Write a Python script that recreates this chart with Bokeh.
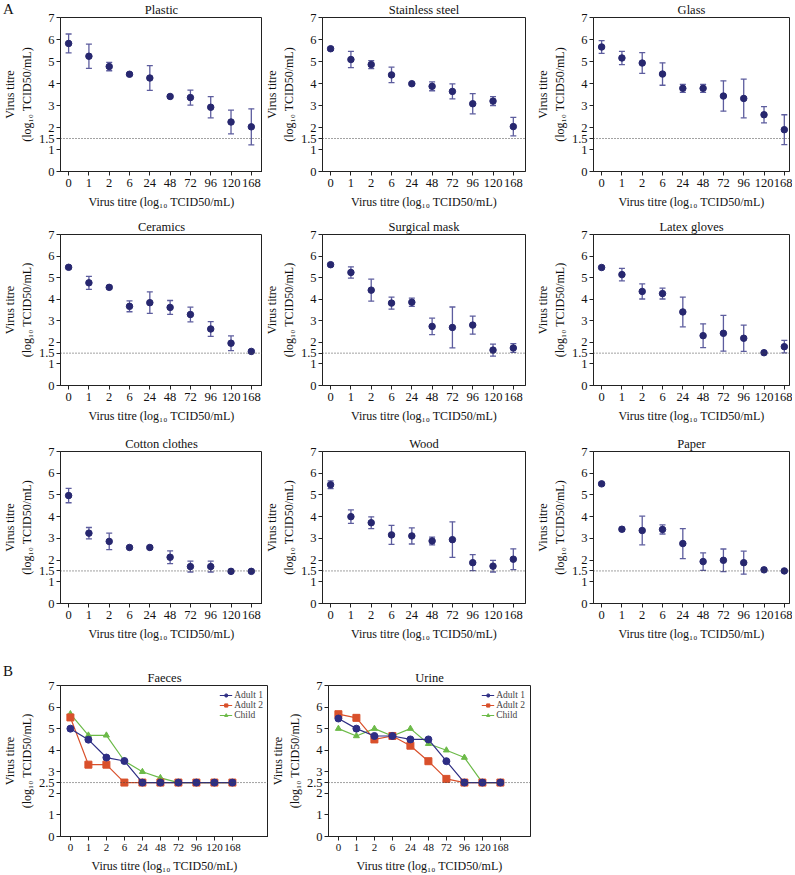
import numpy as np
from bokeh.plotting import figure
from bokeh.layouts import column
from bokeh.models import (ColumnDataSource, Whisker, TeeHead, FixedTicker, Span,
                          Range1d, Legend, LegendItem, Div, GridBox)
from bokeh.embed import file_html
from bokeh.resources import INLINE

TIMES = ["0", "1", "2", "6", "24", "48", "72", "96", "120", "168"]

PANELS_A = ["Plastic", "Stainless steel", "Glass",
            "Ceramics", "Surgical mask", "Latex gloves",
            "Cotton clothes", "Wood", "Paper"]

PLASTIC_MEAN = [5.82, 5.24, 4.77, 4.42, 4.25, 3.41, 3.36, 2.92, 2.25, 2.03]
PLASTIC_ERR = [0.43, 0.55, 0.19, 0.06, 0.56, 0.06, 0.34, 0.48, 0.54, 0.82]
STEEL_MEAN = [5.58, 5.09, 4.86, 4.39, 3.99, 3.87, 3.64, 3.08, 3.20, 2.04]
STEEL_ERR = [0.07, 0.37, 0.18, 0.35, 0.05, 0.20, 0.34, 0.46, 0.20, 0.42]
GLASS_MEAN = [5.66, 5.16, 4.93, 4.43, 3.78, 3.78, 3.43, 3.32, 2.58, 1.90]
GLASS_ERR = [0.29, 0.30, 0.47, 0.51, 0.18, 0.18, 0.69, 0.88, 0.37, 0.68]
CERAMICS_MEAN = [5.48, 4.76, 4.55, 3.67, 3.84, 3.62, 3.29, 2.62, 1.96, 1.58]
CERAMICS_ERR = [0.07, 0.30, 0.07, 0.25, 0.50, 0.32, 0.34, 0.34, 0.34, 0.05]
MASK_MEAN = [5.60, 5.24, 4.42, 3.82, 3.86, 2.74, 2.69, 2.80, 1.64, 1.74]
MASK_ERR = [0.07, 0.26, 0.51, 0.28, 0.19, 0.38, 0.95, 0.42, 0.28, 0.20]
GLOVES_MEAN = [5.47, 5.14, 4.36, 4.26, 3.41, 2.31, 2.42, 2.19, 1.52, 1.80]
GLOVES_ERR = [0.05, 0.29, 0.35, 0.25, 0.69, 0.55, 0.83, 0.61, 0.05, 0.29]
COTTON_MEAN = [4.97, 3.24, 2.86, 2.58, 2.58, 2.13, 1.70, 1.70, 1.48, 1.48]
COTTON_ERR = [0.33, 0.26, 0.38, 0.05, 0.05, 0.29, 0.25, 0.25, 0.03, 0.03]
WOOD_MEAN = [5.47, 4.00, 3.72, 3.16, 3.11, 2.88, 2.94, 1.88, 1.72, 2.04]
WOOD_ERR = [0.18, 0.31, 0.27, 0.44, 0.37, 0.18, 0.82, 0.37, 0.27, 0.48]
PAPER_MEAN = [5.51, 3.42, 3.36, 3.41, 2.76, 1.93, 1.99, 1.88, 1.55, 1.50]
PAPER_ERR = [0.07, 0.08, 0.66, 0.21, 0.69, 0.40, 0.52, 0.53, 0.07, 0.03]

MEANS_A = [PLASTIC_MEAN, STEEL_MEAN, GLASS_MEAN, CERAMICS_MEAN, MASK_MEAN,
           GLOVES_MEAN, COTTON_MEAN, WOOD_MEAN, PAPER_MEAN]
ERRS_A = [PLASTIC_ERR, STEEL_ERR, GLASS_ERR, CERAMICS_ERR, MASK_ERR,
          GLOVES_ERR, COTTON_ERR, WOOD_ERR, PAPER_ERR]

SERIES_B = ["Adult 1", "Adult 2", "Child"]
FAECES_ADULT1 = [5.00, 4.49, 3.66, 3.50, 2.50, 2.50, 2.50, 2.50, 2.50, 2.50]
FAECES_ADULT2 = [5.52, 3.33, 3.33, 2.50, 2.50, 2.50, 2.50, 2.50, 2.50, 2.50]
FAECES_CHILD = [5.68, 4.69, 4.69, 3.50, 3.00, 2.72, 2.50, 2.50, 2.50, 2.50]
URINE_ADULT1 = [5.47, 5.00, 4.66, 4.66, 4.50, 4.50, 3.49, 2.50, 2.50, 2.50]
URINE_ADULT2 = [5.67, 5.50, 4.50, 4.66, 4.21, 3.49, 2.67, 2.50, 2.50, 2.50]
URINE_CHILD = [5.00, 4.66, 5.00, 4.66, 5.00, 4.30, 4.00, 3.66, 2.50, 2.50]

LIMIT_A = 1.5
LIMIT_B = 2.5
YTICKS_A = [0, 1, 1.5, 2, 3, 4, 5, 6, 7]
YTICKS_B = [0, 1, 2, 2.5, 3, 4, 5, 6, 7]

FONT = "Liberation Serif"
POINT_COLOR = "#27276f"
ERR_COLOR = "#5d5d9e"
B_COLORS = ["#2e2e84", "#d9502b", "#6cba48"]
B_MARKERS = ["circle", "square", "triangle"]
YLABEL = "Virus titre\n(log\u2081\u2080 TCID50/mL)"
XLABEL = "Virus titre (log\u2081\u2080 TCID50/mL)"

# layout: (frame_width, min_border_left, min_border_right) per column
COLS_A = [(202, 60, 0), (203, 60, 8), (196, 60, 3)]
ROWS_A = [(154, 16, 46), (151, 16, 49), (152, 16, 53)]  # (frame_h, top, bottom)
COLS_B = [(208, 60, 0), (202, 60, 4)]
ROW_B = (151, 29, 40)


def base_fig(title, xr, yticks, fw, fh, left, right, top, bottom, xtick_size):
    p = figure(frame_width=fw, frame_height=fh, x_range=xr, y_range=Range1d(0, 7),
               output_backend="svg", toolbar_location=None, title=title,
               min_border_left=left, min_border_right=right, min_border_top=top,
               min_border_bottom=bottom)
    p.title.align = "center"
    p.title.text_font = FONT
    p.title.text_font_size = "12.5px"
    p.title.text_font_style = "normal"
    p.title.text_color = "#111111"
    p.title.standoff = 1
    p.title.offset = 0
    p.outline_line_color = "#222222"
    p.outline_line_width = 1
    p.grid.visible = False
    for ax in (p.xaxis[0], p.yaxis[0]):
        ax.axis_line_color = "#222222"
        ax.major_tick_line_color = "#222222"
        ax.major_tick_in = 0
        ax.major_tick_out = 4
        ax.minor_tick_line_color = None
        ax.major_label_text_font = FONT
        ax.major_label_text_font_size = "12.5px"
        ax.major_label_text_color = "#111111"
        ax.axis_label_text_font = FONT
        ax.axis_label_text_font_size = "12px"
        ax.axis_label_text_font_style = "normal"
        ax.axis_label_text_color = "#111111"
    p.xaxis.major_label_text_font_size = xtick_size
    p.yaxis.ticker = FixedTicker(ticks=yticks)
    p.yaxis.major_label_standoff = 2
    p.yaxis.axis_label_standoff = 2
    p.yaxis.axis_label = YLABEL
    p.xaxis.ticker = FixedTicker(ticks=list(range(len(TIMES))))
    p.xaxis.major_label_overrides = {i: t for i, t in enumerate(TIMES)}
    p.xaxis.major_label_standoff = 3
    p.xaxis.axis_label_standoff = 5
    p.xaxis.axis_label = XLABEL
    return p


def letter(t, top):
    return Div(text=t, width=16, height=18, margin=(top, 0, 0, 3), align="start",
               styles={"font-family": FONT, "font-size": "15px", "color": "#111111",
                       "line-height": "1"})


figs_a = []
for k, name in enumerate(PANELS_A):
    fw, left, right = COLS_A[k % 3]
    fh, top, bottom = ROWS_A[k // 3]
    mean = np.array(MEANS_A[k])
    err = np.array(ERRS_A[k])
    x = np.arange(len(TIMES))
    src = ColumnDataSource(dict(x=x, y=mean, lo=mean - err, hi=mean + err))
    span_units = fw / 20.3
    p = base_fig(name, Range1d(-0.4, -0.4 + span_units), YTICKS_A, fw, fh,
                 left, right, top, bottom, "12.5px")
    p.add_layout(Span(location=LIMIT_A, dimension="width", line_color="#444444",
                      line_dash="1 2", line_width=1))
    w = Whisker(source=src, base="x", upper="hi", lower="lo", line_color=ERR_COLOR,
                line_width=1.3,
                upper_head=TeeHead(size=6, line_color=ERR_COLOR, line_width=1.3),
                lower_head=TeeHead(size=6, line_color=ERR_COLOR, line_width=1.3))
    p.add_layout(w)
    p.scatter("x", "y", source=src, size=6.5, marker="circle", fill_color=POINT_COLOR,
              line_color=POINT_COLOR)
    figs_a.append(p)

figs_b = []
for idx, (name, series) in enumerate((("Faeces", (FAECES_ADULT1, FAECES_ADULT2, FAECES_CHILD)),
                                      ("Urine", (URINE_ADULT1, URINE_ADULT2, URINE_CHILD)))):
    fw, left, right = COLS_B[idx]
    fh, top, bottom = ROW_B
    span_units = fw / 18.0
    p = base_fig(name, Range1d(-0.55, -0.55 + span_units), YTICKS_B, fw, fh,
                 left, right, top, bottom, "11px")
    p.add_layout(Span(location=LIMIT_B, dimension="width", line_color="#444444",
                      line_dash="1 2", line_width=1))
    x = np.arange(len(TIMES))
    items = {}
    for j in (2, 1, 0):
        vals = series[j]
        src = ColumnDataSource(dict(x=x, y=vals))
        c = B_COLORS[j]
        l = p.line("x", "y", source=src, line_color=c, line_width=1.2)
        s = p.scatter("x", "y", source=src, marker=B_MARKERS[j], size=7 if j != 2 else 6,
                      fill_color=c, line_color=c)
        items[j] = LegendItem(label=SERIES_B[j], renderers=[l, s])
    leg = Legend(items=[items[0], items[1], items[2]], location="top_right",
                 label_text_font=FONT, label_text_font_size="9.5px",
                 border_line_color=None, background_fill_alpha=0,
                 glyph_width=13, glyph_height=8, label_height=8,
                 spacing=0, padding=2, margin=5, label_standoff=2)
    p.add_layout(leg)
    figs_b.append(p)

rows = []
for r in range(3):
    kids = [(figs_a[3 * r + c], 0, c) for c in range(3)]
    if r == 0:
        kids.append((letter("A", 2), 0, 0))
    rows.append(GridBox(children=kids, spacing=0))
rows.append(GridBox(children=[(figs_b[0], 0, 0), (figs_b[1], 0, 1), (letter("B", 8), 0, 0)],
                    spacing=0))

layout = column(*rows, spacing=0)

open("out.html", "w").write(file_html(layout, INLINE))
